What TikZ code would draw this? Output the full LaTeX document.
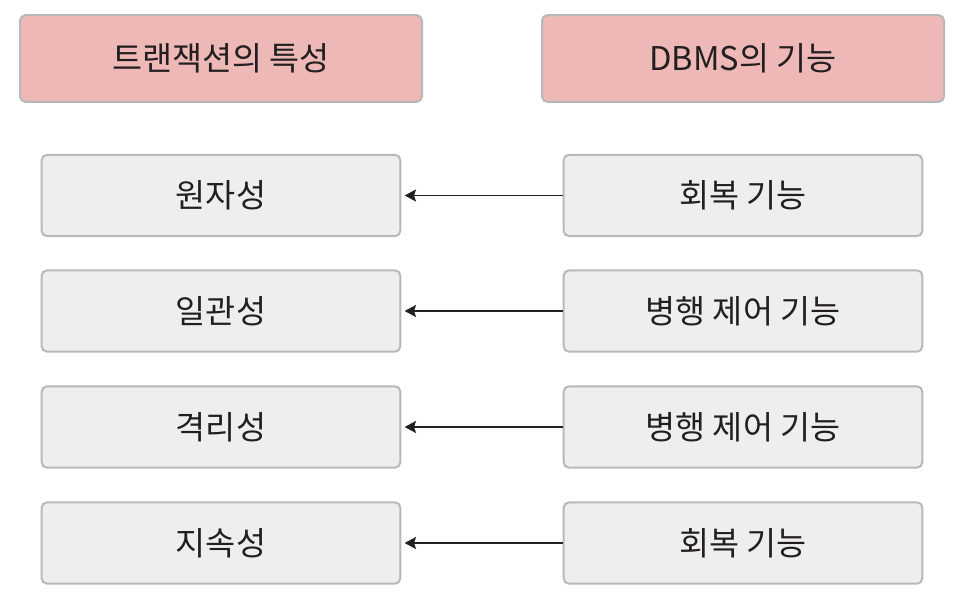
\documentclass[tikz,border=0pt]{standalone}
\usepackage{fontspec}
\setmainfont{Noto Sans CJK KR}
\usetikzlibrary{arrows.meta}
\definecolor{headfill}{HTML}{EDB8B6}
\definecolor{boxfill}{HTML}{EEEEEE}
\definecolor{boxline}{HTML}{B8B8B8}
\definecolor{txt}{HTML}{231F20}
\begin{document}
\begin{tikzpicture}[x=0.75pt,y=-0.75pt,
  headbox/.style={draw=boxline, line width=1.5pt, fill=headfill, rounded corners=4pt,
    minimum width=301.5pt, minimum height=65pt, inner sep=0pt, font=\fontsize{24.5}{28}\selectfont, text=txt},
  itembox/.style={draw=boxline, line width=1.5pt, fill=boxfill, rounded corners=4pt,
    minimum width=269pt, minimum height=61pt, inner sep=0pt, font=\fontsize{24.5}{28}\selectfont, text=txt},
  link/.style={draw=txt, line width=1.3pt, -{Stealth[length=8.5pt,width=9pt,inset=1.5pt]}, shorten >=2.5pt}]
\useasboundingbox (0,0) rectangle (967,606);
\node[headbox] (H1) at (221,58.5) {트랜잭션의 특성};
\node[headbox] (H2) at (743,58.5) {DBMS의 기능};
\node[itembox] (L1) at (221,195.5) {원자성};
\node[itembox] (L2) at (221,311) {일관성};
\node[itembox] (L3) at (221,427) {격리성};
\node[itembox] (L4) at (221,543) {지속성};
\node[itembox] (R1) at (743,195.5) {회복 기능};
\node[itembox] (R2) at (743,311) {병행 제어 기능};
\node[itembox] (R3) at (743,427) {병행 제어 기능};
\node[itembox] (R4) at (743,543) {회복 기능};
\draw[link] (R1.west) -- (L1.east);
\draw[link] (R2.west) -- (L2.east);
\draw[link] (R3.west) -- (L3.east);
\draw[link] (R4.west) -- (L4.east);
\end{tikzpicture}
\end{document}
